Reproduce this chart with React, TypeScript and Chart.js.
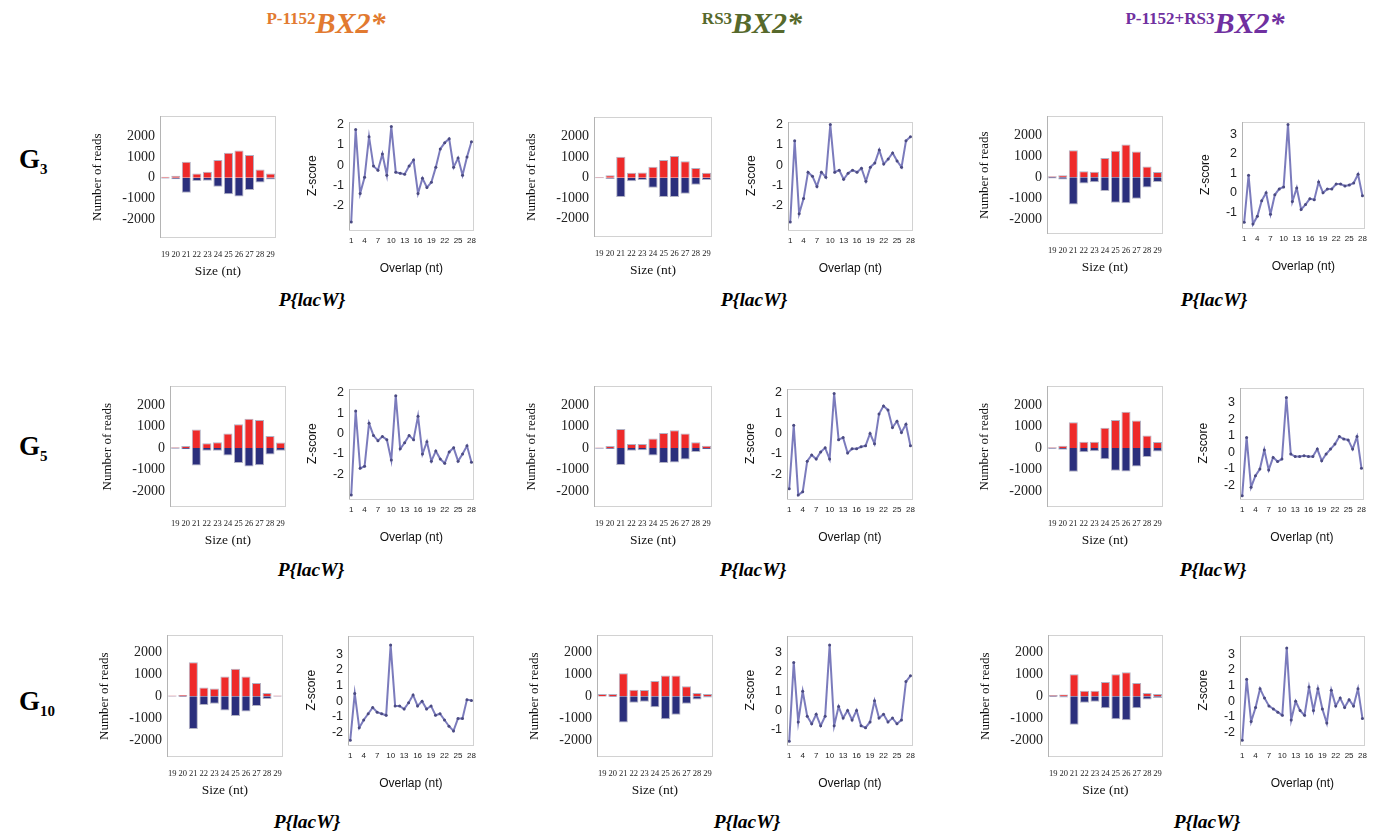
import React, { useEffect, useRef } from "react";
import { Chart, registerables } from "chart.js";
Chart.register(...registerables);

// ---------- data ----------
const sizeLabels = ["19", "20", "21", "22", "23", "24", "25", "26", "27", "28", "29"];
const overlapPositions = [1, 2, 3, 4, 5, 6, 7, 8, 9, 10, 11, 12, 13, 14, 15, 16, 17, 18, 19, 20, 21, 22, 23, 24, 25, 26, 27, 28];
const overlapTickValues = [1, 4, 7, 10, 13, 16, 19, 22, 25, 28];
const readTickValues = [-2000, -1000, 0, 1000, 2000];

// reads per size: sense (red, positive) / antisense (blue, negative)
const g3P1152Sense = [50, 100, 770, 200, 290, 850, 1200, 1310, 1090, 400, 200];
const g3P1152Anti = [-40, -70, -720, -160, -140, -430, -800, -900, -590, -230, -80];
const g3Rs3Sense = [30, 120, 1030, 240, 250, 540, 870, 1060, 810, 480, 240];
const g3Rs3Anti = [-30, -60, -940, -170, -110, -490, -940, -940, -780, -350, -110];
const g3ComboSense = [50, 100, 1290, 290, 260, 920, 1260, 1560, 1230, 520, 250];
const g3ComboAnti = [-60, -100, -1290, -290, -240, -650, -1210, -1230, -1020, -480, -220];

const g5P1152Sense = [30, 90, 860, 220, 270, 680, 1110, 1360, 1300, 560, 250];
const g5P1152Anti = [-30, -60, -820, -130, -130, -350, -700, -860, -810, -300, -130];
const g5Rs3Sense = [20, 90, 890, 190, 190, 440, 700, 830, 670, 270, 110];
const g5Rs3Anti = [-30, -50, -790, -130, -100, -350, -700, -680, -540, -190, -60];
const g5ComboSense = [30, 110, 1200, 290, 290, 940, 1310, 1690, 1280, 580, 280];
const g5ComboAnti = [-40, -80, -1110, -200, -150, -520, -1060, -1090, -860, -420, -160];

const g10P1152Sense = [30, 60, 1550, 400, 350, 900, 1250, 900, 600, 150, 30];
const g10P1152Anti = [-20, -40, -1500, -400, -350, -650, -900, -700, -450, -130, -30];
const g10Rs3Sense = [100, 100, 1050, 300, 280, 700, 950, 950, 450, 150, 100];
const g10Rs3Anti = [-30, -40, -1200, -300, -250, -500, -1050, -850, -350, -150, -60];
const g10ComboSense = [50, 80, 1000, 250, 250, 650, 1000, 1100, 600, 150, 100];
const g10ComboAnti = [-40, -60, -1300, -300, -250, -550, -1050, -1100, -550, -150, -80];

// ping-pong overlap z-scores (overlap 1..28)
const g3P1152Z = [-2.8, 1.75, -1.4, -0.6, 1.4, -0.05, -0.25, 0.55, -0.5, 1.9, -0.35, -0.4, -0.45, -0.05, 0.25, -1.4, -0.65, -1.1, -0.85, -0.1, 0.8, 1.1, 1.3, -0.1, 0.35, -0.5, 0.4, 1.15];
const g3Rs3Z = [-2.8, 1.2, -2.4, -1.65, -0.35, -0.55, -1.05, -0.35, -0.6, 2.0, -0.35, -0.25, -0.7, -0.4, -0.25, -0.35, -0.15, -0.8, -0.1, 0.1, 0.75, 0.05, 0.3, 0.6, 0.2, -0.1, 1.2, 1.4];
const g3ComboZ = [-1.5, 0.9, -1.6, -1.2, -0.4, 0.0, -1.1, -0.1, 0.2, 0.3, 3.5, -0.45, 0.25, -0.85, -0.6, -0.3, -0.35, 0.55, 0.0, 0.2, 0.2, 0.45, 0.45, 0.35, 0.4, 0.5, 0.95, -0.15];

const g5P1152Z = [-3.0, 1.1, -1.7, -1.6, 0.5, -0.1, -0.35, -0.15, -0.3, -1.3, 1.85, -0.75, -0.45, -0.1, -0.3, 0.85, -1.0, -0.4, -1.35, -0.85, -1.25, -1.45, -0.9, -0.7, -1.35, -1.0, -0.6, -1.4];
const g5Rs3Z = [-2.7, 0.4, -3.0, -2.85, -1.35, -1.05, -1.25, -0.9, -0.7, -1.25, 1.95, -0.3, -0.2, -0.95, -0.75, -0.75, -0.65, -0.6, 0.0, -0.5, 0.95, 1.35, 1.15, 0.3, 0.6, 0.05, 0.45, -0.6];
const g5ComboZ = [-2.6, 0.9, -2.1, -1.4, -1.0, 0.15, -1.05, -0.3, -0.55, -0.4, 3.3, -0.1, -0.25, -0.25, -0.2, -0.25, -0.25, 0.2, -0.5, -0.1, 0.2, 0.5, 0.95, 0.8, 0.75, 0.2, 0.95, -0.95];

const g10P1152Z = [-2.5, 0.5, -1.7, -1.2, -0.8, -0.4, -0.7, -0.8, -0.9, 3.6, -0.3, -0.3, -0.5, -0.1, 0.4, -0.3, 0.0, -0.5, -0.3, -0.9, -0.8, -1.2, -1.6, -1.9, -1.1, -1.1, 0.1, 0.05];
const g10Rs3Z = [-1.6, 2.5, -0.6, 1.0, -0.3, -0.7, -0.2, -0.8, -0.3, 3.4, -0.8, 0.2, -0.4, 0.0, -0.5, 0.0, -0.8, -0.9, -0.6, 0.5, -0.4, -0.2, -0.6, -0.4, -0.7, -0.5, 1.5, 1.8];
const g10ComboZ = [-2.5, 1.4, -1.3, -0.4, 0.8, 0.2, -0.3, -0.5, -0.7, -0.9, 3.4, -1.2, 0.0, -0.6, -0.9, 0.9, -0.6, 0.8, -0.5, -1.4, 0.7, -0.3, 0.2, -0.4, 0.1, -0.3, 0.8, -1.1];

// ---------- helpers ----------
const SERIF = "'Liberation Serif', 'DejaVu Serif', serif";
const SANS = "'Liberation Sans', 'DejaVu Sans', sans-serif";

const framePlugin = {
  id: "frame",
  afterDraw(chart: any) {
    const { ctx, chartArea } = chart;
    const { left, top, right, bottom } = chartArea;
    ctx.save();
    ctx.lineWidth = 1;
    ctx.strokeStyle = "#d2d2d2";
    ctx.strokeRect(Math.round(left) + 0.5, Math.round(top) + 0.5, Math.round(right - left) - 1, Math.round(bottom - top) - 1);
    ctx.strokeStyle = "#b4b4b4";
    ctx.beginPath();
    ctx.moveTo(Math.round(left) + 0.5, Math.round(top));
    ctx.lineTo(Math.round(left) + 0.5, Math.round(bottom));
    ctx.stroke();
    ctx.restore();
  },
};

const plainTick = (v: any) => String(v);

type BarProps = { frame: number[]; sense: number[]; anti: number[]; yMin: number; yMax: number };

function BarPanel({ frame, sense, anti, yMin, yMax }: BarProps) {
  const ref = useRef<HTMLCanvasElement>(null);
  const [fx, fy, fw, fh] = frame;
  const L = 74, T = 9, R = 4, B = 45;
  const W = fw + L + R, H = fh + T + B;
  useEffect(() => {
    const chart = new Chart(ref.current as HTMLCanvasElement, {
      type: "bar",
      data: {
        labels: sizeLabels,
        datasets: [
          { data: sense, backgroundColor: "#ee2a2a", borderColor: "rgba(170,170,190,0.9)", borderWidth: 1, barPercentage: 0.86, categoryPercentage: 1 },
          { data: anti, backgroundColor: "#2b2f7c", borderColor: "rgba(170,170,190,0.9)", borderWidth: 1, barPercentage: 0.86, categoryPercentage: 1 },
        ],
      },
      options: {
        animation: false,
        responsive: false,
        maintainAspectRatio: false,
        layout: { padding: { left: 0, right: R, top: T, bottom: 0 } },
        plugins: { legend: { display: false }, tooltip: { enabled: false } },
        scales: {
          x: {
            stacked: true,
            grid: { display: false, drawTicks: false },
            border: { display: false },
            ticks: { font: { family: SERIF, size: 8.5 }, color: "#222", padding: 12, maxRotation: 0, autoSkip: false },
            title: { display: true, text: "Size (nt)", font: { family: SERIF, size: 13.5 }, color: "#111", padding: { top: 0, bottom: 3.5 } },
            afterFit: (s: any) => { s.height = B; },
          },
          y: {
            stacked: true,
            min: yMin,
            max: yMax,
            afterBuildTicks: (axis: any) => { axis.ticks = readTickValues.map((v) => ({ value: v })); },
            grid: { display: false, drawTicks: false },
            border: { display: false },
            ticks: { font: { family: SERIF, size: 14 }, color: "#222", padding: 5, callback: plainTick },
            title: { display: true, text: "Number of reads", font: { family: SERIF, size: 13 }, color: "#111", padding: { top: 4, bottom: 0 } },
            afterFit: (s: any) => { s.width = L; },
          },
        },
      },
      plugins: [framePlugin],
    } as any);
    return () => chart.destroy();
  }, []);
  return <canvas ref={ref} width={W} height={H} style={{ position: "absolute", left: fx - L, top: fy - T, width: W, height: H }} />;
}

type LineProps = { frame: number[]; z: number[]; yMin: number; yMax: number; yTicks: number[] };

function LinePanel({ frame, z, yMin, yMax, yTicks }: LineProps) {
  const ref = useRef<HTMLCanvasElement>(null);
  const [fx, fy, fw, fh] = frame;
  const L = 48, T = 9, R = 6, B = 48;
  const W = fw + L + R, H = fh + T + B;
  useEffect(() => {
    const chart = new Chart(ref.current as HTMLCanvasElement, {
      type: "line",
      data: {
        datasets: [
          {
            data: overlapPositions.map((x, i) => ({ x, y: z[i] })),
            borderColor: "rgba(112,112,182,0.92)",
            borderWidth: 2,
            pointRadius: 1.5,
            pointBackgroundColor: "#4b4b82",
            pointBorderWidth: 0,
            tension: 0,
          },
        ],
      },
      options: {
        animation: false,
        responsive: false,
        maintainAspectRatio: false,
        layout: { padding: { left: 0, right: R, top: T, bottom: 0 } },
        plugins: { legend: { display: false }, tooltip: { enabled: false } },
        scales: {
          x: {
            type: "linear",
            min: 0.5,
            max: 28.5,
            afterBuildTicks: (axis: any) => { axis.ticks = overlapTickValues.map((v) => ({ value: v })); },
            grid: { display: false, drawTicks: false },
            border: { display: false },
            ticks: { font: { family: SANS, size: 8 }, color: "#222", padding: 6, maxRotation: 0, callback: plainTick },
            title: { display: true, text: "Overlap (nt)", font: { family: SANS, size: 12 }, color: "#111", padding: { top: 0, bottom: 2 } },
            afterFit: (s: any) => { s.height = B; },
          },
          y: {
            min: yMin,
            max: yMax,
            afterBuildTicks: (axis: any) => { axis.ticks = yTicks.map((v) => ({ value: v })); },
            grid: { display: false, drawTicks: false },
            border: { display: false },
            ticks: { font: { family: SANS, size: 12.5 }, color: "#222", padding: 5, callback: plainTick },
            title: { display: true, text: "Z-score", font: { family: SANS, size: 12 }, color: "#111", padding: { top: 4, bottom: 0 } },
            afterFit: (s: any) => { s.width = L; },
          },
        },
      },
      plugins: [framePlugin],
    } as any);
    return () => chart.destroy();
  }, []);
  return <canvas ref={ref} width={W} height={H} style={{ position: "absolute", left: fx - L, top: fy - T, width: W, height: H }} />;
}

function Header({ cx, small, color }: { cx: number; small: string; color: string }) {
  return (
    <div style={{ position: "absolute", left: cx - 200, top: 8, width: 400, display: "flex", justifyContent: "center", alignItems: "baseline", color, fontFamily: SERIF, fontWeight: "bold", whiteSpace: "nowrap", lineHeight: "30px" }}>
      <span style={{ fontSize: 17, position: "relative", top: -9 }}>{small}</span>
      <span style={{ fontSize: 30, fontStyle: "italic" }}>BX2*</span>
    </div>
  );
}

function RowLabel({ top, sub }: { top: number; sub: string }) {
  return (
    <div style={{ position: "absolute", left: 19, top, fontFamily: SERIF, fontWeight: "bold", color: "#000", whiteSpace: "nowrap", lineHeight: "28px" }}>
      <span style={{ fontSize: 27 }}>G</span>
      <span style={{ fontSize: 15, position: "relative", top: 6 }}>{sub}</span>
    </div>
  );
}

function Lacw({ cx, top }: { cx: number; top: number }) {
  return (
    <div style={{ position: "absolute", left: cx - 60, top, width: 120, textAlign: "center", fontFamily: SERIF, fontWeight: "bold", fontStyle: "italic", fontSize: 19.5, lineHeight: "20px", color: "#000" }}>
      P{"{"}lacW{"}"}
    </div>
  );
}

export default function App() {
  const orange = "#e27a30";
  const green = "#56692c";
  const purple = "#7030a0";
  return (
    <div style={{ position: "absolute", left: 0, top: 0, width: 1381, height: 840, background: "#fff", overflow: "hidden" }}>
      <Header cx={326} small="P-1152" color={orange} />
      <Header cx={752} small="RS3" color={green} />
      <Header cx={1205} small="P-1152+RS3" color={purple} />

      <RowLabel top={145} sub="3" />
      <RowLabel top={432} sub="5" />
      <RowLabel top={687} sub="10" />

      {/* G3 row */}
      <BarPanel frame={[160, 112, 123, 126]} sense={g3P1152Sense} anti={g3P1152Anti} yMin={-2900} yMax={2950} />
      <LinePanel frame={[349, 118, 127, 112]} z={g3P1152Z} yMin={-3.2} yMax={2.15} yTicks={[-2, -1, 0, 1, 2]} />
      <BarPanel frame={[594, 113, 125, 124]} sense={g3Rs3Sense} anti={g3Rs3Anti} yMin={-2900} yMax={2950} />
      <LinePanel frame={[788, 118, 127, 112]} z={g3Rs3Z} yMin={-3.2} yMax={2.15} yTicks={[-2, -1, 0, 1, 2]} />
      <BarPanel frame={[1047, 112, 123, 122]} sense={g3ComboSense} anti={g3ComboAnti} yMin={-2700} yMax={2900} />
      <LinePanel frame={[1242, 118, 125, 110]} z={g3ComboZ} yMin={-1.8} yMax={3.65} yTicks={[-1, 0, 1, 2, 3]} />

      {/* G5 row */}
      <BarPanel frame={[170, 382, 123, 125]} sense={g5P1152Sense} anti={g5P1152Anti} yMin={-2750} yMax={2870} />
      <LinePanel frame={[349, 385, 127, 114]} z={g5P1152Z} yMin={-3.2} yMax={2.2} yTicks={[-2, -1, 0, 1, 2]} />
      <BarPanel frame={[594, 382, 125, 125]} sense={g5Rs3Sense} anti={g5Rs3Anti} yMin={-2750} yMax={2870} />
      <LinePanel frame={[787, 385, 128, 114]} z={g5Rs3Z} yMin={-3.2} yMax={2.2} yTicks={[-2, -1, 0, 1, 2]} />
      <BarPanel frame={[1047, 382, 123, 125]} sense={g5ComboSense} anti={g5ComboAnti} yMin={-2750} yMax={2870} />
      <LinePanel frame={[1240, 384, 126, 115]} z={g5ComboZ} yMin={-2.8} yMax={3.9} yTicks={[-2, -1, 0, 1, 2, 3]} />

      {/* G10 row */}
      <BarPanel frame={[167, 631, 123, 126]} sense={g10P1152Sense} anti={g10P1152Anti} yMin={-2780} yMax={2780} />
      <LinePanel frame={[348, 632, 128, 113]} z={g10P1152Z} yMin={-2.8} yMax={4.2} yTicks={[-2, -1, 0, 1, 2, 3]} />
      <BarPanel frame={[597, 631, 123, 126]} sense={g10Rs3Sense} anti={g10Rs3Anti} yMin={-2780} yMax={2780} />
      <LinePanel frame={[787, 632, 128, 113]} z={g10Rs3Z} yMin={-1.8} yMax={3.9} yTicks={[-1, 0, 1, 2, 3]} />
      <BarPanel frame={[1048, 631, 122, 126]} sense={g10ComboSense} anti={g10ComboAnti} yMin={-2780} yMax={2780} />
      <LinePanel frame={[1240, 632, 127, 113]} z={g10ComboZ} yMin={-2.8} yMax={4.2} yTicks={[-2, -1, 0, 1, 2, 3]} />

      <Lacw cx={312} top={290} />
      <Lacw cx={754} top={290} />
      <Lacw cx={1214} top={290} />
      <Lacw cx={311} top={560} />
      <Lacw cx={753} top={560} />
      <Lacw cx={1213} top={560} />
      <Lacw cx={307} top={812} />
      <Lacw cx={747} top={812} />
      <Lacw cx={1207} top={812} />
    </div>
  );
}
